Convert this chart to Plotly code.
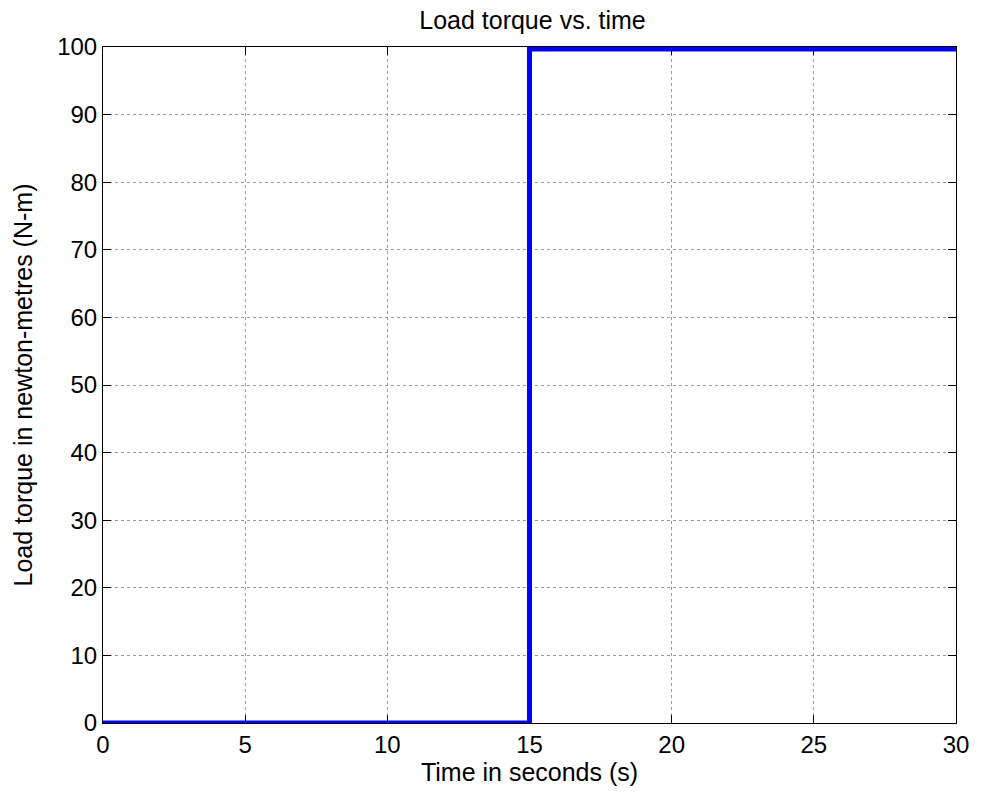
import plotly.graph_objects as go

time_s = [0, 15, 15, 30]
torque_nm = [0, 0, 99.7, 99.7]
x_ticks = [0, 5, 10, 15, 20, 25, 30]
y_ticks = [0, 10, 20, 30, 40, 50, 60, 70, 80, 90, 100]

FONT = "Liberation Sans, Arial, sans-serif"

fig = go.Figure()
fig.add_trace(go.Scatter(x=time_s, y=torque_nm, mode="lines", cliponaxis=False,
                         line=dict(color="#0000ff", width=5), showlegend=False))

axis_common = dict(showline=True, linecolor="black", linewidth=1, mirror="ticks",
                   ticks="inside", ticklen=8, tickcolor="black",
                   showgrid=True, gridcolor="#9a9a9a", griddash="dot", gridwidth=1,
                   zeroline=False, layer="below traces",
                   tickfont=dict(family=FONT, size=24, color="black"))

fig.update_layout(
    width=981, height=796,
    margin=dict(l=103, r=19, t=47, b=73),
    paper_bgcolor="white", plot_bgcolor="white",
    title=dict(text="Load torque vs. time", x=(103 + 962) / 2 / 981, xanchor="center",
               xref="container", yref="container", y=1 - 20 / 796, yanchor="middle",
               font=dict(family=FONT, size=25, color="black")),
    xaxis=dict(range=[0, 30], tickvals=x_ticks,
               title=dict(text="Time in seconds (s)", standoff=6,
                          font=dict(family=FONT, size=25, color="black")),
               **axis_common),
    yaxis=dict(range=[0, 100], tickvals=y_ticks,
               title=dict(text="Load torque in newton-metres (N-m)", standoff=17,
                          font=dict(family=FONT, size=25, color="black")),
               **axis_common),
)
fig.write_html("out.html")
